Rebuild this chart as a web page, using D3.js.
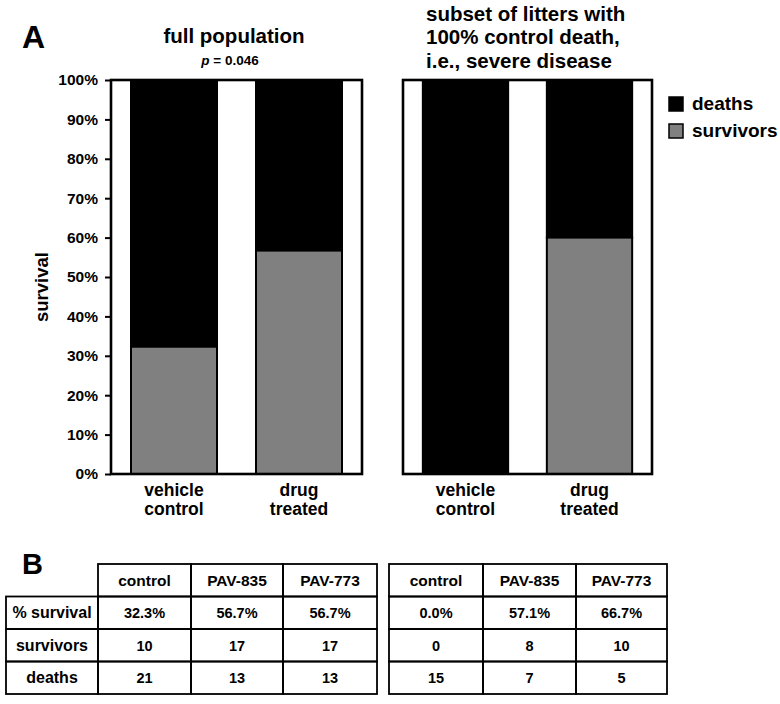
<!DOCTYPE html>
<html>
<head>
<meta charset="utf-8">
<script src="https://cdn.jsdelivr.net/npm/d3@7"></script>
<style>
  html, body { margin: 0; padding: 0; background: #fff; }
  svg { display: block; font-family: "Liberation Sans", Arial, Helvetica, sans-serif; }
</style>
</head>
<body>
<svg id="chart" width="780" height="704"></svg>
<script>
// ---- data ----
const categories = [["vehicle", "control"], ["drug", "treated"]];
const categoryKeys = ["vehicle control", "drug treated"];
const survivalFull = [32.3, 56.7];      // % survivors, full population
const survivalSevere = [0, 60];         // % survivors, severe-disease subset
const yTicks = [0, 10, 20, 30, 40, 50, 60, 70, 80, 90, 100];
const legendLabels = ["deaths", "survivors"];
const tableColumns = ["control", "PAV-835", "PAV-773"];
const tableRowLabels = ["% survival", "survivors", "deaths"];
const fullPct = ["32.3%", "56.7%", "56.7%"];
const fullSurvivors = [10, 17, 17];
const fullDeaths = [21, 13, 13];
const severePct = ["0.0%", "57.1%", "66.7%"];
const severeSurvivors = [0, 8, 10];
const severeDeaths = [15, 7, 5];

// ---- setup ----
const svg = d3.select("#chart");
const GREY = "#808080";
const yTop = 80, yBot = 474;
const y = d3.scaleLinear().domain([0, 100]).range([yBot, yTop]);

function panel(x0, x1, values, withAxis) {
  const g = svg.append("g");
  const x = d3.scaleBand().domain(categoryKeys).range([x0, x1])
    .paddingInner(0.312).paddingOuter(0.16);
  g.append("rect").attr("x", x0).attr("y", yTop).attr("width", x1 - x0).attr("height", yBot - yTop)
    .attr("fill", "#fff");
  categoryKeys.forEach((k, i) => {
    const s = values[i];
    g.append("rect").attr("x", x(k)).attr("width", x.bandwidth())
      .attr("y", y(100)).attr("height", y(s) - y(100))
      .attr("fill", "#000").attr("stroke", "#000").attr("stroke-width", 2);
    if (s > 0) {
      g.append("rect").attr("x", x(k)).attr("width", x.bandwidth())
        .attr("y", y(s)).attr("height", y(0) - y(s))
        .attr("fill", GREY).attr("stroke", "#000").attr("stroke-width", 2);
    }
    categories[i].forEach((line, j) => {
      g.append("text").attr("text-anchor", "middle")
        .attr("font-size", 17.5).attr("font-weight", "bold").attr("fill", "#000")
        .attr("x", x(k) + x.bandwidth() / 2).attr("y", 496 + j * 18.5).text(line);
    });
  });
  g.append("rect").attr("x", x0).attr("y", yTop).attr("width", x1 - x0).attr("height", yBot - yTop)
    .attr("fill", "none").attr("stroke", "#000").attr("stroke-width", 2.6);
  if (withAxis) {
    const ax = g.append("g").attr("transform", `translate(${x0},0)`)
      .call(d3.axisLeft(y).tickValues(yTicks).tickSize(6).tickPadding(7).tickFormat(d => d + "%"));
    ax.select(".domain").remove();
    ax.selectAll("line").attr("stroke", "#000").attr("stroke-width", 2);
    ax.selectAll("text").attr("font-size", 15.5).attr("font-weight", "bold")
      .attr("font-family", "Liberation Sans, Arial, sans-serif").attr("fill", "#000");
  }
  return g;
}

panel(111, 362, survivalFull, true);
panel(403, 652, survivalSevere, false);

// panel label A
svg.append("text").attr("x", 22).attr("y", 48).attr("font-size", 32).attr("font-weight", "bold").text("A");

// titles
svg.append("text").attr("x", 234).attr("y", 43).attr("text-anchor", "middle")
  .attr("font-size", 20.5).attr("font-weight", "bold").text("full population");
const pt = svg.append("text").attr("x", 230).attr("y", 65).attr("text-anchor", "middle")
  .attr("font-size", 13.5).attr("font-weight", "bold");
pt.append("tspan").attr("font-style", "italic").text("p");
pt.append("tspan").text(" = 0.046");

const rt = svg.append("text").attr("font-size", 20.5).attr("font-weight", "bold");
["subset of litters with", "100% control death,", "i.e., severe disease"].forEach((l, i) => {
  rt.append("tspan").attr("x", 426).attr("y", 21 + i * 23.3).text(l);
});

// y label
svg.append("text").attr("transform", "translate(48,287) rotate(-90)").attr("text-anchor", "middle")
  .attr("font-size", 18.5).attr("font-weight", "bold").text("survival");

// legend
const legendFills = ["#000", GREY];
legendLabels.forEach((l, i) => {
  svg.append("rect").attr("x", 669).attr("y", 97 + i * 27).attr("width", 14).attr("height", 14)
    .attr("fill", legendFills[i]).attr("stroke", "#000").attr("stroke-width", 1.5);
  svg.append("text").attr("x", 692).attr("y", 110 + i * 27).attr("font-size", 19)
    .attr("font-weight", "bold").text(l);
});

// ---- tables ----
svg.append("text").attr("x", 22).attr("y", 574).attr("font-size", 29).attr("font-weight", "bold").text("B");

const rowY = [564, 596.5, 629, 661.5, 694];
function table(colX, labelX, rows) {
  const g = svg.append("g");
  const lineAttr = sel => sel.attr("fill", "none").attr("stroke", "#000").attr("stroke-width", 1.8);
  tableColumns.forEach((c, j) => {
    g.append("rect").attr("x", colX[j]).attr("y", rowY[0]).attr("width", colX[j + 1] - colX[j])
      .attr("height", rowY[1] - rowY[0]).call(lineAttr);
    g.append("text").attr("x", (colX[j] + colX[j + 1]) / 2).attr("y", (rowY[0] + rowY[1]) / 2 + 5.5)
      .attr("text-anchor", "middle").attr("font-size", 15.5).attr("font-weight", "bold").text(c);
  });
  rows.forEach((vals, i) => {
    const y0 = rowY[i + 1], y1 = rowY[i + 2];
    if (labelX !== null) {
      g.append("rect").attr("x", labelX).attr("y", y0).attr("width", colX[0] - labelX)
        .attr("height", y1 - y0).call(lineAttr);
      g.append("text").attr("x", (labelX + colX[0]) / 2).attr("y", (y0 + y1) / 2 + 5.5)
        .attr("text-anchor", "middle").attr("font-size", 16).attr("font-weight", "bold")
        .text(tableRowLabels[i]);
    }
    vals.forEach((v, j) => {
      g.append("rect").attr("x", colX[j]).attr("y", y0).attr("width", colX[j + 1] - colX[j])
        .attr("height", y1 - y0).call(lineAttr);
      g.append("text").attr("x", (colX[j] + colX[j + 1]) / 2).attr("y", (y0 + y1) / 2 + 5.5)
        .attr("text-anchor", "middle").attr("font-size", 14.5).attr("font-weight", "bold").text(v);
    });
  });
}
table([98, 191, 283, 377], 6, [fullPct, fullSurvivors, fullDeaths]);
table([389, 483, 576, 667], null, [severePct, severeSurvivors, severeDeaths]);
</script>
</body>
</html>
